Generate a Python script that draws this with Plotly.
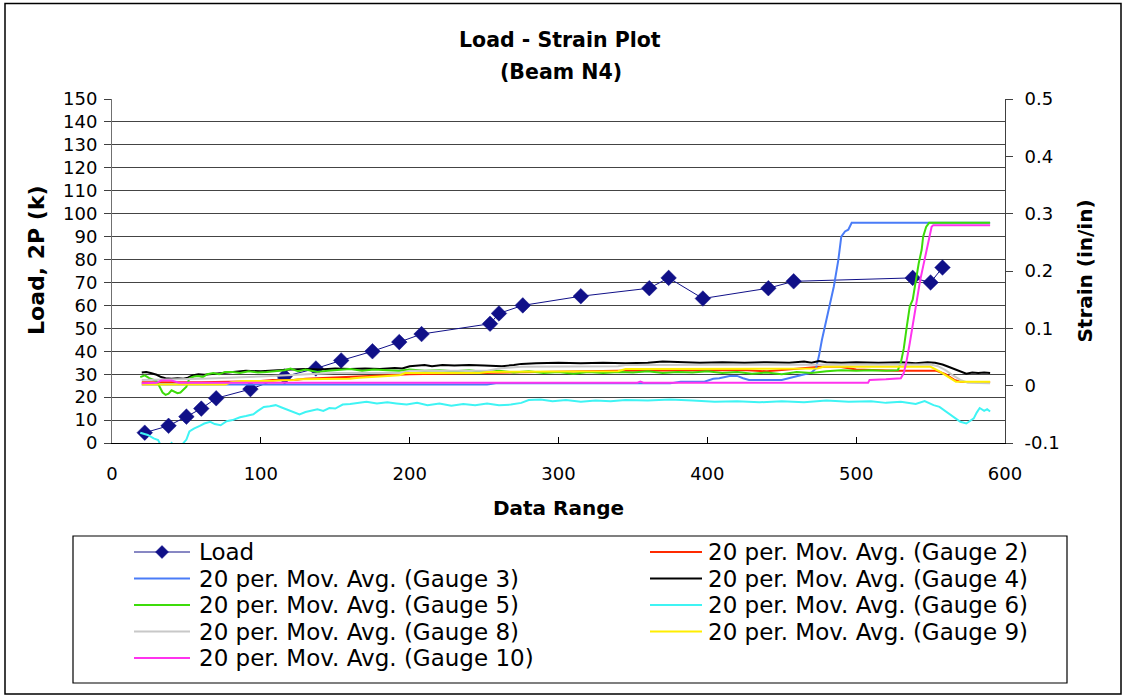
import plotly.graph_objects as go

# ---- Load readings (primary axis, kips) ----
load_x = [22, 38, 50, 60, 70, 93, 116, 137, 154, 175, 193, 208, 254, 260,
          276, 315, 361, 374, 397, 441, 458, 538, 550, 558]
load_y = [4.5, 7.5, 11.5, 15, 19.5, 23.5, 29, 32.5, 36, 40, 44, 47.5, 52, 56.5,
          60, 64, 67.5, 72, 63, 67.5, 70.5, 72, 70, 76.5]

# ---- 20-period moving averages of gauge strain (secondary axis, in/in) ----
# each entry: (data index, strain)
gauge2 = [(20, 0.006), (60, 0.006), (100, 0.008), (108, 0.010), (122, 0.010),
          (130, 0.012), (200, 0.020), (260, 0.023), (340, 0.026), (415, 0.027),
          (427, 0.027), (440, 0.025), (476, 0.033), (489, 0.033), (500, 0.028),
          (527, 0.026), (554, 0.026), (560, 0.020), (566, 0.010), (570, 0.007),
          (590, 0.006)]

gauge3 = [(20, 0.002), (100, 0.002), (200, 0.002), (252, 0.002), (258, 0.004),
          (375, 0.004), (382, 0.007), (398, 0.007), (404, 0.012), (408, 0.013),
          (415, 0.017), (420, 0.017), (424, 0.013), (428, 0.010), (450, 0.010),
          (455, 0.013), (460, 0.016), (465, 0.019), (470, 0.023), (473, 0.030),
          (475, 0.052), (477, 0.080), (479, 0.103), (482, 0.138), (485, 0.173),
          (488, 0.219), (490, 0.260), (492.5, 0.269), (494.7, 0.272), (497, 0.284),
          (590, 0.284)]

gauge4 = [(20, 0.023), (23, 0.024), (26, 0.022), (30, 0.019), (33, 0.015),
          (36, 0.013), (40, 0.012), (44, 0.013), (48, 0.012), (51, 0.014),
          (54, 0.018), (58, 0.020), (62, 0.019), (66, 0.020), (72, 0.021),
          (78, 0.023), (84, 0.024), (90, 0.026), (100, 0.025), (110, 0.027),
          (120, 0.028), (130, 0.029), (140, 0.028), (150, 0.030), (160, 0.029),
          (170, 0.030), (180, 0.029), (190, 0.031), (195, 0.030), (200, 0.034),
          (210, 0.036), (215, 0.034), (222, 0.036), (230, 0.035), (240, 0.036),
          (250, 0.035), (262, 0.034), (270, 0.036), (275, 0.038), (285, 0.039),
          (300, 0.040), (315, 0.039), (330, 0.040), (345, 0.039), (360, 0.040),
          (370, 0.042), (380, 0.041), (395, 0.040), (410, 0.041), (425, 0.040),
          (440, 0.041), (455, 0.040), (465, 0.042), (470, 0.040), (475, 0.043),
          (480, 0.041), (490, 0.040), (500, 0.041), (515, 0.040), (530, 0.041),
          (540, 0.039), (548, 0.041), (553, 0.040), (558, 0.037), (562, 0.033),
          (566, 0.029), (570, 0.025), (574, 0.021), (578, 0.023), (582, 0.022),
          (586, 0.023), (590, 0.022)]

gauge5 = [(19, 0.015), (22, 0.018), (25, 0.013), (28, 0.010), (30, 0.008),
          (32, -0.002), (34, -0.012), (36, -0.016), (38, -0.014), (40, -0.008),
          (42, -0.010), (44, -0.013), (46, -0.012), (48, -0.006), (50, -0.002),
          (52, 0.013), (55, 0.016), (58, 0.017), (61, 0.015), (64, 0.020),
          (68, 0.022), (72, 0.020), (76, 0.024), (81, 0.024), (86, 0.022),
          (92, 0.025), (98, 0.023), (104, 0.024), (110, 0.026), (116, 0.027),
          (120, 0.030), (125, 0.025), (130, 0.028), (138, 0.024), (145, 0.026),
          (152, 0.027), (160, 0.029), (168, 0.026), (176, 0.028), (185, 0.027),
          (193, 0.026), (200, 0.028), (210, 0.026), (220, 0.027), (230, 0.025),
          (240, 0.027), (250, 0.024), (260, 0.026), (270, 0.023), (280, 0.025),
          (290, 0.022), (300, 0.024), (310, 0.021), (320, 0.024), (330, 0.022),
          (340, 0.024), (350, 0.023), (360, 0.025), (370, 0.022), (380, 0.024),
          (390, 0.023), (400, 0.025), (410, 0.022), (420, 0.024), (430, 0.021),
          (440, 0.023), (450, 0.020), (460, 0.024), (470, 0.022), (480, 0.025),
          (490, 0.027), (500, 0.026), (510, 0.027), (520, 0.026), (528, 0.027),
          (530, 0.040), (532, 0.065), (534, 0.103), (536, 0.138), (538, 0.150),
          (540, 0.185), (542, 0.213), (544, 0.237), (545, 0.260), (547, 0.277),
          (549, 0.284), (590, 0.284)]

gauge6 = [(19, -0.082), (24, -0.086), (28, -0.092), (31, -0.095), (34, -0.110),
          (36, -0.121), (38, -0.112), (40, -0.100), (43, -0.106), (46, -0.112),
          (48, -0.100), (50, -0.094), (52, -0.080), (55, -0.075), (59, -0.070),
          (62, -0.066), (66, -0.063), (69, -0.067), (73, -0.069), (77, -0.062),
          (81, -0.060), (86, -0.055), (90, -0.053), (95, -0.050), (98, -0.044),
          (102, -0.037), (106, -0.036), (110, -0.034), (114, -0.038), (118, -0.042),
          (122, -0.047), (126, -0.050), (130, -0.046), (134, -0.043), (138, -0.041),
          (142, -0.044), (146, -0.039), (150, -0.040), (155, -0.033), (160, -0.032),
          (165, -0.030), (171, -0.028), (178, -0.031), (185, -0.029), (191, -0.031),
          (198, -0.033), (205, -0.030), (212, -0.034), (220, -0.031), (228, -0.035),
          (236, -0.032), (244, -0.034), (252, -0.031), (260, -0.034), (268, -0.033),
          (275, -0.030), (280, -0.025), (288, -0.024), (296, -0.027), (305, -0.025),
          (315, -0.028), (325, -0.026), (335, -0.027), (345, -0.025), (360, -0.026),
          (375, -0.024), (390, -0.026), (405, -0.028), (420, -0.027), (435, -0.029),
          (450, -0.027), (465, -0.029), (480, -0.026), (495, -0.028), (510, -0.027),
          (520, -0.030), (530, -0.028), (540, -0.032), (546, -0.027), (552, -0.034),
          (556, -0.037), (561, -0.046), (565, -0.054), (570, -0.063), (574, -0.066),
          (577, -0.060), (579, -0.057), (581, -0.047), (583, -0.039), (586, -0.044),
          (588, -0.041), (590, -0.045)]

gauge8 = [(20, 0.010), (60, 0.012), (100, 0.016), (130, 0.019), (149, 0.022),
          (193, 0.022), (200, 0.026), (252, 0.026), (260, 0.030), (275, 0.033),
          (340, 0.034), (345, 0.036), (550, 0.037), (555, 0.034), (560, 0.027),
          (565, 0.018), (570, 0.010), (575, 0.005), (590, 0.004)]

gauge9 = [(20, 0.002), (76, 0.002), (80, 0.006), (88, 0.008), (108, 0.008),
          (112, 0.009), (122, 0.010), (126, 0.011), (160, 0.012), (166, 0.014),
          (180, 0.016), (193, 0.018), (197, 0.022), (247, 0.022), (252, 0.024),
          (340, 0.025), (345, 0.029), (375, 0.029), (378, 0.030), (474, 0.030),
          (478, 0.033), (550, 0.033), (556, 0.025), (560, 0.018), (564, 0.011),
          (567, 0.007), (590, 0.007)]

gauge10 = [(20, 0.004), (30, 0.005), (33, 0.009), (40, 0.009), (45, 0.005),
           (100, 0.005), (353, 0.005), (355, 0.007), (357, 0.005), (508, 0.005),
           (509, 0.010), (520, 0.011), (530, 0.013), (532, 0.022), (534, 0.045),
           (536, 0.074), (538.5, 0.115), (540.8, 0.149), (543, 0.184), (545, 0.208),
           (547.4, 0.237), (549.6, 0.260), (550.7, 0.277), (551.8, 0.280), (590, 0.280)]

gauge_series = [
    ("20 per. Mov. Avg. (Gauge 2)", gauge2, "#ff2a00"),
    ("20 per. Mov. Avg. (Gauge 3)", gauge3, "#4a7cf7"),
    ("20 per. Mov. Avg. (Gauge 4)", gauge4, "#000000"),
    ("20 per. Mov. Avg. (Gauge 5)", gauge5, "#3ddc0a"),
    ("20 per. Mov. Avg. (Gauge 6)", gauge6, "#3ff4f4"),
    ("20 per. Mov. Avg. (Gauge 8)", gauge8, "#c8c8c8"),
    ("20 per. Mov. Avg. (Gauge 9)", gauge9, "#ffee00"),
    ("20 per. Mov. Avg. (Gauge 10)", gauge10, "#ff33ee"),
]

strain_ticks = [-0.1, 0.0, 0.1, 0.2, 0.3, 0.4, 0.5]
strain_labels = ["-0.1", "0", "0.1", "0.2", "0.3", "0.4", "0.5"]

LOAD_COLOR = "#101088"
FONT = "DejaVu Sans"

# plot-area box in pixels (figure is 1125 x 698)
W, H = 1125, 698
L, R, T, B = 112, 1005, 99, 443


def fx(px):
    return (px - L) / (R - L)


def fy(py):
    return (B - py) / (B - T)


fig = go.Figure()

fig.add_trace(go.Scatter(
    x=load_x, y=load_y, name="Load", mode="lines+markers", yaxis="y",
    line=dict(color=LOAD_COLOR, width=1),
    marker=dict(symbol="diamond", size=12, color=LOAD_COLOR,
                line=dict(color=LOAD_COLOR, width=0.5)),
))

for name, pts, color in gauge_series:
    fig.add_trace(go.Scatter(
        x=[p[0] for p in pts], y=[p[1] for p in pts], name=name,
        mode="lines", yaxis="y2", line=dict(color=color, width=2),
    ))

shapes = []
annotations = []

# outer chart frame
shapes.append(dict(type="rect", xref="paper", yref="paper",
                   x0=fx(5), x1=fx(1121), y0=fy(3.5), y1=fy(694),
                   line=dict(color="black", width=1.5), fillcolor="rgba(0,0,0,0)",
                   layer="above"))

# legend frame
shapes.append(dict(type="rect", xref="paper", yref="paper",
                   x0=fx(73), x1=fx(1067), y0=fy(536), y1=fy(683),
                   line=dict(color="black", width=1.2), fillcolor="rgba(0,0,0,0)"))

# legend entries, two per row
entries = [("Load", LOAD_COLOR, True)] + [(n, c, False) for n, _, c in gauge_series]
row_y = [552, 578.5, 605, 631.5, 658]
col_line = [(134, 190), (650, 702)]
col_text = [197, 706]
for i, (label, color, has_marker) in enumerate(entries):
    r, c = divmod(i, 2)
    y = row_y[r]
    x0, x1 = col_line[c]
    shapes.append(dict(type="line", xref="paper", yref="paper",
                       x0=fx(x0), x1=fx(x1), y0=fy(y), y1=fy(y),
                       line=dict(color=color, width=1 if has_marker else 2)))
    if has_marker:
        cx, hs = (x0 + x1) / 2, 6.5
        path = (f"M {fx(cx)},{fy(y - hs)} L {fx(cx + hs)},{fy(y)} "
                f"L {fx(cx)},{fy(y + hs)} L {fx(cx - hs)},{fy(y)} Z")
        shapes.append(dict(type="path", xref="paper", yref="paper", path=path,
                           fillcolor=color, line=dict(color=color, width=0.5)))
    annotations.append(dict(text=label, xref="paper", yref="paper",
                            x=fx(col_text[c]), y=fy(y), xanchor="left",
                            yanchor="middle", showarrow=False,
                            font=dict(family=FONT, size=23, color="black")))

# chart title, two lines
annotations.append(dict(text="<b>Load - Strain Plot</b>", xref="paper", yref="paper",
                        x=fx(559.5), y=fy(40), xanchor="center", yanchor="middle",
                        showarrow=False, font=dict(family=FONT, size=20.5, color="black")))
annotations.append(dict(text="<b>(Beam N4)</b>", xref="paper", yref="paper",
                        x=fx(561), y=fy(72), xanchor="center", yanchor="middle",
                        showarrow=False, font=dict(family=FONT, size=20.5, color="black")))

# primary axis title
annotations.append(dict(text="<b>Load, 2P (k)</b>", xref="paper", yref="paper",
                        x=fx(36), y=fy(260), xanchor="center", yanchor="middle",
                        textangle=-90, showarrow=False,
                        font=dict(family=FONT, size=22, color="black")))

fig.update_layout(
    width=W, height=H,
    margin=dict(l=L, r=W - R, t=T, b=H - B, pad=0),
    showlegend=False,
    plot_bgcolor="white", paper_bgcolor="white",
    font=dict(family=FONT, color="black", size=18),
    shapes=shapes, annotations=annotations,
    xaxis=dict(
        range=[0, 600], tick0=0, dtick=100, ticks="inside", ticklen=6,
        tickcolor="black", showline=True, linecolor="black", linewidth=1,
        showgrid=False, zeroline=False, automargin=False,
        ticklabelstandoff=14,
        tickfont=dict(family=FONT, size=18),
        title=dict(text="<b>Data Range</b>", standoff=18,
                   font=dict(family=FONT, size=20)),
    ),
    yaxis=dict(
        range=[0, 150], tick0=0, dtick=10, ticks="outside", ticklen=7,
        tickcolor="#404040", showline=True, linecolor="#707070", linewidth=1,
        showgrid=True, gridcolor="#444444", gridwidth=1, zeroline=False,
        automargin=False, ticklabelstandoff=3,
        tickfont=dict(family=FONT, size=18),
    ),
    yaxis2=dict(
        overlaying="y", side="right", range=[-0.1, 0.5],
        tickvals=strain_ticks, ticktext=strain_labels,
        ticks="outside", ticklen=7, tickcolor="#404040",
        showline=True, linecolor="#404040", linewidth=1,
        showgrid=False, zeroline=False, automargin=False,
        ticklabelstandoff=8,
        tickfont=dict(family=FONT, size=18),
        title=dict(text="<b>Strain (in/in)</b>", standoff=19,
                   font=dict(family=FONT, size=20)),
    ),
)

fig.write_html("out.html")
